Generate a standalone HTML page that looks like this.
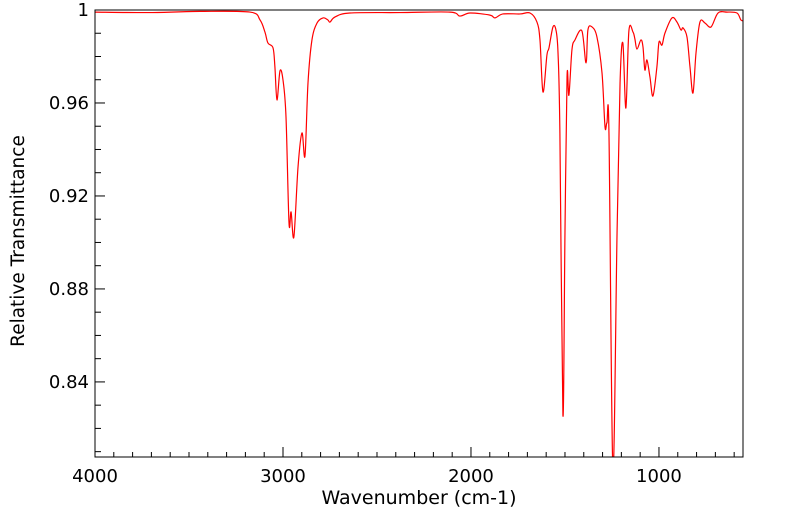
<!DOCTYPE html>
<html><head><meta charset="utf-8"><style>
html,body{margin:0;padding:0;background:#fff;}
svg{display:block;font-family:"DejaVu Sans","Liberation Sans",sans-serif;}
</style></head><body>
<svg id="chart" width="799" height="516" viewBox="0 0 799 516" xmlns="http://www.w3.org/2000/svg">
<defs><clipPath id="plotclip"><rect x="95" y="10" width="648" height="447"/></clipPath></defs>
<g id="axes"></g>
<g id="series" clip-path="url(#plotclip)"></g>
<rect x="95" y="10" width="648" height="447" fill="none" stroke="#000" stroke-width="1"/>
<text x="419" y="504" font-size="19" text-anchor="middle">Wavenumber (cm-1)</text>
<text x="0" y="0" font-size="18.5" text-anchor="middle" transform="translate(24,241) rotate(-90)">Relative Transmittance</text>
</svg>
<script>
const wavenumbers = [4000,3707,3442,3176,3122,3096,3080,3053,3043,3032,3016,3000,2984,2968,2957,2942,2920,2899,2883,2867,2846,2819,2787,2761,2750,2723,2644,2378,2112,2059,2005,1899,1872,1830,1739,1686,1649,1633,1617,1596,1585,1564,1548,1537,1527,1511,1500,1489,1479,1463,1447,1410,1388,1378,1356,1330,1303,1287,1277,1266,1245,1223,1207,1192,1176,1160,1138,1128,1117,1096,1085,1075,1064,1048,1032,1011,1000,984,968,931,904,883,872,851,835,819,803,782,755,723,686,638,585,564,548];
const transmittance = [0.9991,0.9989,0.9994,0.9991,0.9957,0.9905,0.9858,0.9837,0.9755,0.9613,0.9738,0.9699,0.9540,0.9084,0.9131,0.9024,0.9325,0.9471,0.9372,0.9686,0.9871,0.9944,0.9966,0.9957,0.9948,0.9970,0.9987,0.9989,0.9991,0.9974,0.9987,0.9978,0.9966,0.9983,0.9983,0.9987,0.9948,0.9871,0.9647,0.9806,0.9837,0.9927,0.9914,0.9815,0.9471,0.8258,0.9041,0.9712,0.9634,0.9828,0.9871,0.9910,0.9772,0.9914,0.9927,0.9884,0.9729,0.9497,0.9514,0.9471,0.8022,0.9041,0.9686,0.9858,0.9578,0.9910,0.9905,0.9875,0.9832,0.9871,0.9841,0.9742,0.9785,0.9712,0.9630,0.9755,0.9862,0.9849,0.9901,0.9966,0.9948,0.9914,0.9923,0.9884,0.9755,0.9643,0.9815,0.9948,0.9944,0.9927,0.9987,0.9991,0.9987,0.9957,0.9953];
const xTickLabels = [4000,3000,2000,1000];
const yTickLabels = [1,0.96,0.92,0.88,0.84];

const X0=95,X1=743,Y0=10,Y1=457;
const W_LEFT=4000,W_RIGHT=553,T_TOP=1.0,T_BOT=0.8077;
function xs(w){return X0+(W_LEFT-w)/(W_LEFT-W_RIGHT)*(X1-X0);}
function ys(t){return Y0+(T_TOP-t)/(T_TOP-T_BOT)*(Y1-Y0);}
const NS='http://www.w3.org/2000/svg';
const axes=document.getElementById('axes');
function mk(tag,attrs,parent){const e=document.createElementNS(NS,tag);for(const k in attrs)e.setAttribute(k,attrs[k]);parent.appendChild(e);return e;}

for(let w=4000; w>=W_RIGHT; w-=100){
  const major = w%1000===0;
  const t=mk('line',{x1:xs(w),x2:xs(w),y1:Y1,y2:Y1-(major?10:5),stroke:'#000','stroke-width':1},axes);
  
  
}
xTickLabels.forEach(v=>{
  const t=mk('text',{x:xs(v),y:482,'font-size':18,'text-anchor':'middle'},axes);
  t.textContent=v;
  
  
});
for(let i=0;i<=19;i++){
  const v=1-i*0.01;
  if(v<T_BOT) break;
  const major = i%4===0;
  const t=mk('line',{x1:X0,x2:X0+(major?10:6),y1:ys(v),y2:ys(v),stroke:'#000','stroke-width':1},axes);
  
  
}
yTickLabels.forEach(v=>{
  const t=mk('text',{x:89,y:ys(v)+6,'font-size':18,'text-anchor':'end'},axes);
  t.textContent=v;
  
  
});
// smooth curve through points (Catmull-Rom)
const P=wavenumbers.map((w,i)=>[xs(w),ys(transmittance[i])]);
let d='M'+P[0][0].toFixed(2)+','+P[0][1].toFixed(2);
for(let i=0;i<P.length-1;i++){
  const p0=P[Math.max(0,i-1)],p1=P[i],p2=P[i+1],p3=P[Math.min(P.length-1,i+2)];
  const c1=[p1[0]+(p2[0]-p0[0])/6,p1[1]+(p2[1]-p0[1])/6];
  const c2=[p2[0]-(p3[0]-p1[0])/6,p2[1]-(p3[1]-p1[1])/6];
  d+=' C'+c1[0].toFixed(2)+','+c1[1].toFixed(2)+' '+c2[0].toFixed(2)+','+c2[1].toFixed(2)+' '+p2[0].toFixed(2)+','+p2[1].toFixed(2);
}
const line=mk('path',{d:d,fill:'none',stroke:'#ff0000','stroke-width':1.2,'stroke-linejoin':'round'},document.getElementById('series'));


</script>
</body></html>
